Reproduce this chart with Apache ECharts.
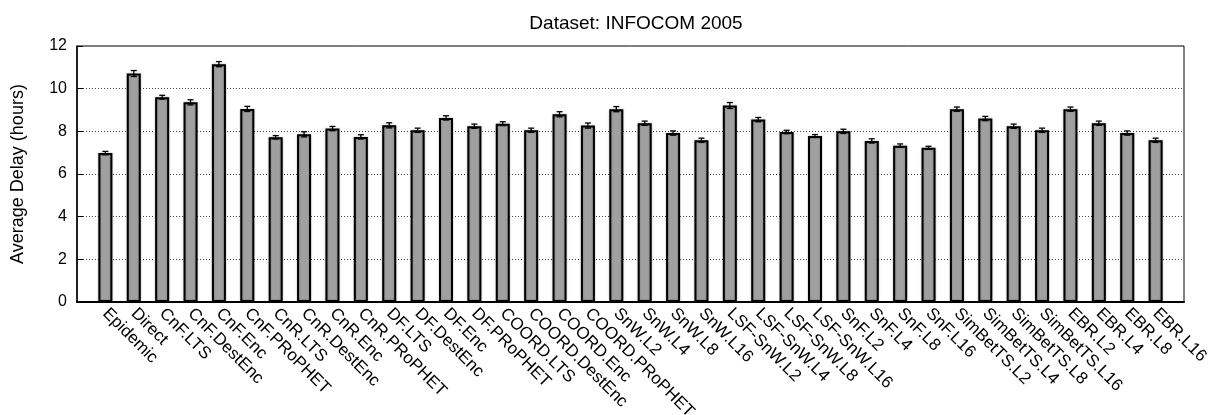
<!DOCTYPE html>
<html>
<head>
<meta charset="utf-8">
<script src="https://cdn.jsdelivr.net/npm/echarts@6/dist/echarts.min.js"></script>
<style>html,body{margin:0;padding:0;background:#fff}#c{width:1213px;height:415px}</style>
</head>
<body>
<div id="c"></div>
<script>
const categories = ['Epidemic','Direct','CnF.LTS','CnF.DestEnc','CnF.Enc','CnF.PRoPHET',
  'CnR.LTS','CnR.DestEnc','CnR.Enc','CnR.PRoPHET','DF.LTS','DF.DestEnc','DF.Enc','DF.PRoPHET',
  'COORD.LTS','COORD.DestEnc','COORD.Enc','COORD.PRoPHET','SnW.L2','SnW.L4','SnW.L8','SnW.L16',
  'LSF-SnW.L2','LSF-SnW.L4','LSF-SnW.L8','LSF-SnW.L16','SnF.L2','SnF.L4','SnF.L8','SnF.L16',
  'SimBetTS.L2','SimBetTS.L4','SimBetTS.L8','SimBetTS.L16','EBR.L2','EBR.L4','EBR.L8','EBR.L16'];
const delay = [6.98,10.71,9.60,9.36,11.15,9.05,7.72,7.86,8.13,7.74,8.28,8.05,8.63,8.24,
  8.36,8.05,8.80,8.27,9.04,8.38,7.92,7.58,9.21,8.55,7.97,7.78,8.00,7.55,7.33,7.23,
  9.04,8.60,8.24,8.05,9.04,8.38,7.92,7.58];
const errors = [0.08,0.14,0.09,0.12,0.12,0.12,0.08,0.12,0.10,0.10,0.12,0.10,0.10,0.10,
  0.09,0.10,0.12,0.12,0.12,0.10,0.10,0.10,0.14,0.10,0.08,0.07,0.10,0.10,0.08,0.07,
  0.10,0.10,0.10,0.10,0.10,0.10,0.10,0.10];
const yTicks = [0,2,4,6,8,10,12];
const titleText = 'Dataset: INFOCOM 2005';
const yName = 'Average Delay (hours)';

const FONT = '"Liberation Sans", Arial, Helvetica, sans-serif';
const axisCats = [''].concat(categories, ['']);
const barData = [null].concat(delay, [null]);
const errData = categories.map((c, i) => [i + 1, delay[i] - errors[i], delay[i] + errors[i]]);

const chart = echarts.init(document.getElementById('c'), null, {renderer: 'canvas'});
chart.setOption({
  animation: false,
  backgroundColor: '#fff',
  title: {
    text: titleText, left: 631, top: 9, textAlign: 'center',
    textStyle: {fontFamily: FONT, fontSize: 19, fontWeight: 'normal', color: '#000'}
  },
  grid: {left: 77, right: 29, top: 46, bottom: 113, outerBoundsMode: 'none', containLabel: false,
    show: true, borderColor: '#000', borderWidth: 1, backgroundColor: 'transparent'},
  xAxis: {
    type: 'category', data: axisCats, boundaryGap: false,
    axisLine: {lineStyle: {color: '#000', width: 2}},
    axisTick: {show: false},
    axisLabel: {interval: 0, rotate: -45, margin: 9, color: '#000', fontFamily: FONT, fontSize: 17},
    splitLine: {show: false}
  },
  yAxis: {
    type: 'value', min: 0, max: 12, interval: 2,
    name: yName, nameLocation: 'middle', nameGap: 50, nameRotate: 90,
    nameTextStyle: {fontFamily: FONT, fontSize: 18, color: '#000'},
    axisLine: {show: true, lineStyle: {color: '#000', width: 1.5}},
    axisTick: {show: true, inside: true, length: 6, lineStyle: {color: '#000'}},
    axisLabel: {margin: 10, color: '#000', fontFamily: FONT, fontSize: 16,
      formatter: v => yTicks.indexOf(v) >= 0 ? String(v) : ''},
    splitLine: {show: true, showMinLine: false, showMaxLine: false, lineStyle: {color: '#444', type: [1, 2], width: 1}}
  },
  series: [
    {
      type: 'bar', data: barData, barWidth: 14,
      itemStyle: {color: '#a0a0a0', borderColor: '#000', borderWidth: 2,
        shadowColor: 'rgba(0,0,0,0.3)', shadowBlur: 2},
      z: 2
    },
    {
      type: 'custom', data: errData, z: 3,
      renderItem: function (params, api) {
        const x = api.value(0);
        const lo = api.coord([x, api.value(1)]);
        const hi = api.coord([x, api.value(2)]);
        const w = 3;
        const st = {stroke: '#000', lineWidth: 1.3};
        return {type: 'group', children: [
          {type: 'line', shape: {x1: lo[0], y1: lo[1], x2: hi[0], y2: hi[1]}, style: st},
          {type: 'line', shape: {x1: lo[0] - w, y1: lo[1], x2: lo[0] + w, y2: lo[1]}, style: st},
          {type: 'line', shape: {x1: hi[0] - w, y1: hi[1], x2: hi[0] + w, y2: hi[1]}, style: st}
        ]};
      }
    }
  ]
});
</script>
</body>
</html>
